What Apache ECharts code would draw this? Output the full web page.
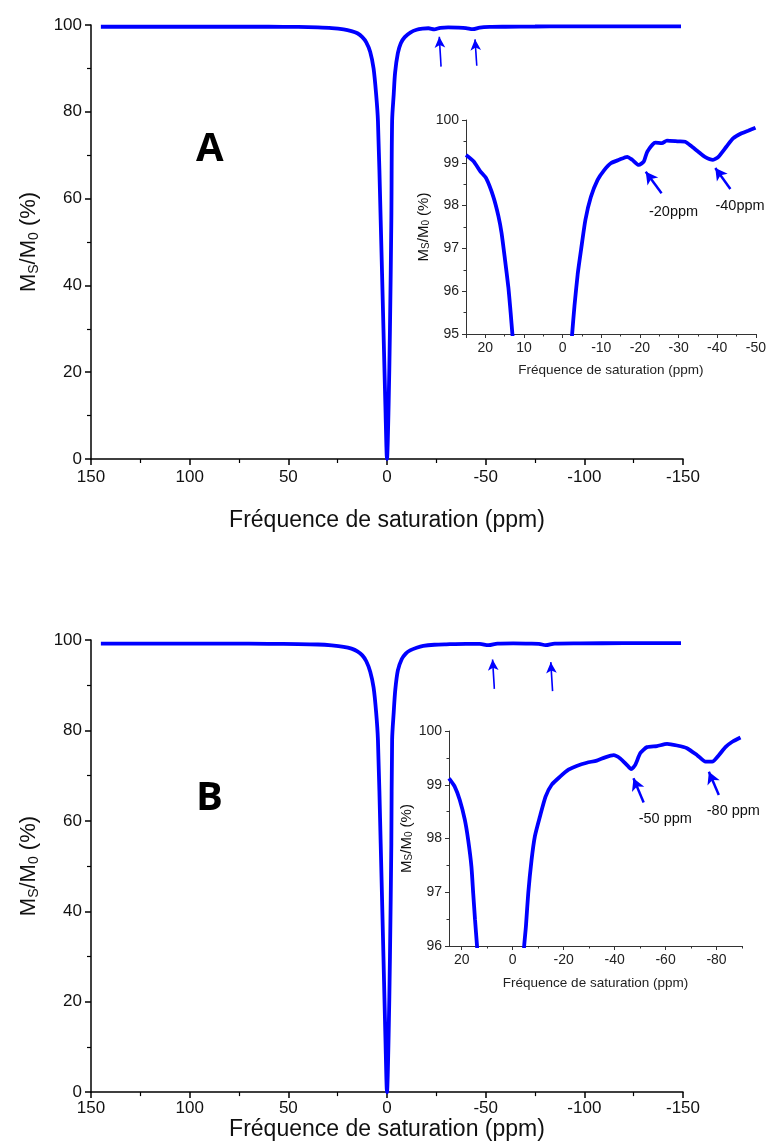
<!DOCTYPE html>
<html><head><meta charset="utf-8">
<script src="https://cdn.jsdelivr.net/npm/echarts@6/dist/echarts.min.js"></script>
<style>html,body{margin:0;padding:0;background:#fff}#c{width:769px;height:1142px}</style>
</head><body><div id="c"></div>
<script>
// ---- Panel A (main) ----
const mainA_ppm = [145, 120, 100, 80, 60, 45, 35, 28, 22, 18, 15, 12.5, 10.5, 8.5, 6.8, 5.5, 4.6, 3.2, 1.8, 0.8, 0, -0.8, -1.5, -2.2, -2.6, -3.4, -4.1, -5.5, -7, -9, -12, -15, -18, -21, -24, -27, -31, -36, -40, -43.5, -47, -52, -60, -75, -90, -110, -130, -149];
const mainA_val = [99.6, 99.6, 99.6, 99.6, 99.6, 99.55, 99.45, 99.3, 99.0, 98.6, 98.1, 97.2, 96.0, 93.8, 90, 84, 78, 55, 30, 12, 0, 12, 30, 55, 78, 84, 89, 93.5, 95.8, 97.2, 98.3, 98.9, 99.15, 99.25, 99.0, 99.35, 99.45, 99.4, 99.3, 99.05, 99.4, 99.55, 99.6, 99.65, 99.7, 99.7, 99.7, 99.7];
// ---- Panel B (main) ----
const mainB_ppm = [145, 120, 100, 80, 60, 45, 35, 28, 22, 18, 15, 12.5, 10.5, 8.5, 6.8, 5.5, 4.6, 3.2, 1.8, 0.8, 0, -0.8, -1.5, -2.2, -2.6, -3.4, -4.2, -5.5, -7.5, -9.5, -11.7, -15, -18.4, -24, -30, -40, -47, -51.4, -56, -64, -72, -77, -80.4, -85, -98, -120, -149];
const mainB_val = [99.2, 99.2, 99.2, 99.2, 99.15, 99.1, 99.0, 98.8, 98.5, 98.1, 97.5, 96.6, 95.3, 93.0, 89.5, 84, 78, 55, 30, 12, 0, 12, 30, 55, 78, 84, 89, 93.3, 95.8, 97.0, 97.7, 98.3, 98.7, 98.95, 99.05, 99.15, 99.15, 98.85, 99.2, 99.25, 99.2, 99.15, 98.85, 99.2, 99.25, 99.3, 99.3];
// ---- Inset A ----
const insA_ppm = [25, 23, 21.3, 19.8, 17.9, 16.6, 15.8, 14.9, 14.05, 13.45, 13.0, 12.6, 5, -2.2, -2.46, -3.06, -3.9, -4.77, -5.9, -7.3, -9.05, -10.76, -12.47, -14.6, -16.7, -18, -19.7, -21, -21.9, -24, -25.7, -27, -30, -31.7, -33.4, -35.1, -36.8, -38.9, -40.3, -42.4, -44.1, -46.3, -48, -49.9];
const insA_val = [99.18, 99.03, 98.8, 98.64, 98.2, 97.75, 97.36, 96.73, 96.1, 95.5, 95.0, 94.6, null, 94.6, 95.0, 95.65, 96.4, 96.97, 97.67, 98.2, 98.6, 98.83, 98.99, 99.07, 99.14, 99.07, 98.95, 99.03, 99.26, 99.47, 99.46, 99.52, 99.5, 99.49, 99.38, 99.26, 99.14, 99.07, 99.14, 99.38, 99.57, 99.69, 99.75, 99.82];
// ---- Inset B ----
const insB_ppm = [25, 22.8, 20.8, 18.8, 17.5, 16.2, 15.5, 14.8, 14.0, 13.6, 5, -4.2, -4.5, -5.2, -6.1, -7.4, -8.7, -10.7, -12.9, -15.3, -18.6, -21.9, -25.1, -29.1, -33, -36.3, -39.6, -42.2, -44.8, -46.5, -48.1, -50.1, -52.7, -56.6, -60.6, -64.5, -68.4, -72.4, -75.7, -78.3, -80.9, -83.5, -86.2, -89.4];
const insB_val = [99.12, 98.97, 98.72, 98.35, 97.98, 97.48, 96.98, 96.5, 96.0, 95.7, null, 95.7, 96.0, 96.37, 96.98, 97.6, 98.04, 98.41, 98.78, 99.0, 99.15, 99.28, 99.35, 99.41, 99.45, 99.51, 99.55, 99.49, 99.37, 99.29, 99.37, 99.59, 99.70, 99.72, 99.76, 99.73, 99.68, 99.55, 99.43, 99.43, 99.55, 99.70, 99.80, 99.88];
// ---- tick labels ----
const mainXTicks = [150, 100, 50, 0, -50, -100, -150];
const mainYTicks = [0, 20, 40, 60, 80, 100];
const insAXTicks = [20, 10, 0, -10, -20, -30, -40, -50];
const insBXTicks = [20, 0, -20, -40, -60, -80];
const insBXMinor = [10, -10, -30, -50, -70, -90];
// ---- annotations: arrows [tailX, tailY, headX, headY] and labels ----
const arrowsA = [[-27.4, 90.4, -26.5, 97.3], [-45.5, 90.6, -44.6, 96.7]];
const arrowsB = [[-54.4, 89.2, -53.5, 95.7], [-83.9, 88.7, -83.0, 95.1]];
const arrowsInsA = [[-25.6, 98.29, -21.5, 98.79], [-43.4, 98.39, -39.5, 98.88]];
const arrowsInsB = [[-51.4, 98.67, -47.4, 99.12], [-80.9, 98.81, -77.0, 99.24]];
const labelsInsA = [['-20ppm', -28.7, 97.85], ['-40ppm', -45.9, 97.99]];
const labelsInsB = [['-50 ppm', -59.9, 98.36], ['-80 ppm', -86.6, 98.52]];

const FONT = 'Liberation Sans, Arial, sans-serif';
const BLUE = '#0000ff';
const pair = (xs, ys) => xs.map((x, i) => [x, ys[i] === null ? '-' : ys[i]]);
const arrowData = arr => arr.map(a => [{coord: [a[0], a[1]], symbol: 'none'}, {coord: [a[2], a[3]], symbol: 'arrow'}]);
const labelData = arr => arr.map(l => ({name: l[0], coord: [l[1], l[2]]}));

const yName = (fs, sfs, pad) => ({
  name: '{m|M}{s|S}{m|/M}{s|0}{m| (%)}',
  nameTextStyle: {color: '#111', fontFamily: FONT, fontSize: fs,
    rich: {m: {fontSize: fs, fontFamily: FONT, color: '#111'},
           s: {fontSize: sfs, fontFamily: FONT, color: '#111', padding: [pad, 0, 0, 0]}}}
});

function mainX(gi, gap, margin) {
  return {gridIndex: gi, type: 'value', inverse: true, min: -150, max: 150, interval: 50, position: 'bottom',
    axisLine: {onZero: false, lineStyle: {color: '#000', width: 1.5}},
    axisTick: {show: true, length: 6, lineStyle: {color: '#000', width: 1.5}},
    minorTick: {show: true, splitNumber: 2, length: 4, lineStyle: {color: '#000', width: 1.2}},
    splitLine: {show: false},
    axisLabel: {fontFamily: FONT, fontSize: 17, color: '#111', margin: margin,
      formatter: v => mainXTicks.includes(v) ? String(v) : ''},
    name: 'Fréquence de saturation (ppm)', nameLocation: 'middle', nameGap: gap,
    nameTextStyle: {fontFamily: FONT, fontSize: 23, color: '#111'}};
}
function mainY(gi) {
  return Object.assign({gridIndex: gi, type: 'value', min: 0, max: 100, interval: 20, position: 'left',
    axisLine: {show: true, onZero: false, lineStyle: {color: '#000', width: 1.5}},
    axisTick: {show: true, length: 6, lineStyle: {color: '#000', width: 1.5}},
    minorTick: {show: true, splitNumber: 2, length: 4, lineStyle: {color: '#000', width: 1.2}},
    splitLine: {show: false},
    axisLabel: {fontFamily: FONT, fontSize: 17, color: '#111', margin: 9},
    nameLocation: 'middle', nameGap: 50}, yName(22, 14, 10));
}

const option = {
  animation: false,
  backgroundColor: '#fff',
  grid: [
    {left: 91, top: 25, width: 592, height: 434},
    {left: 91, top: 640, width: 592, height: 462},
    {left: 466, top: 120, width: 292, height: 214},
    {left: 449, top: 731, width: 293, height: 215}
  ],
  xAxis: [
    mainX(0, 50, 10),
    mainX(1, 18, 8),
    {gridIndex: 2, type: 'value', inverse: true, min: -50, max: 25, interval: 10, position: 'bottom',
      axisLine: {onZero: false, lineStyle: {color: '#333', width: 1}},
      axisTick: {length: 4, lineStyle: {color: '#333'}},
      minorTick: {show: true, splitNumber: 2, length: 2.5, lineStyle: {color: '#333'}},
      splitLine: {show: false},
      axisLabel: {fontFamily: FONT, fontSize: 14, color: '#222', margin: 7,
        formatter: v => insAXTicks.includes(v) ? String(v) : ''},
      name: 'Fréquence de saturation (ppm)', nameLocation: 'middle', nameGap: 29,
      nameTextStyle: {fontFamily: FONT, fontSize: 13.5, color: '#222'}},
    {gridIndex: 3, type: 'value', inverse: true, min: -90, max: 25, position: 'bottom',
      axisLine: {onZero: false, lineStyle: {color: '#333', width: 1}},
      axisTick: {length: 4, lineStyle: {color: '#333'}, customValues: insBXTicks},
      minorTick: {show: false},
      splitLine: {show: false},
      axisLabel: {fontFamily: FONT, fontSize: 14, color: '#222', margin: 7, customValues: insBXTicks},
      name: 'Fréquence de saturation (ppm)', nameLocation: 'middle', nameGap: 30,
      nameTextStyle: {fontFamily: FONT, fontSize: 13.5, color: '#222'}},
    {gridIndex: 3, type: 'value', inverse: true, min: -90, max: 25, position: 'bottom', offset: 0,
      axisLine: {show: false, onZero: false},
      axisTick: {length: 2.5, lineStyle: {color: '#333'}, customValues: insBXMinor},
      axisLabel: {show: false}, splitLine: {show: false}}
  ],
  yAxis: [
    mainY(0),
    mainY(1),
    Object.assign({gridIndex: 2, type: 'value', min: 95, max: 100, interval: 1, position: 'left',
      axisLine: {show: true, onZero: false, lineStyle: {color: '#333', width: 1}},
      axisTick: {length: 4, lineStyle: {color: '#333'}},
      minorTick: {show: true, splitNumber: 2, length: 2.5, lineStyle: {color: '#333'}},
      splitLine: {show: false},
      axisLabel: {fontFamily: FONT, fontSize: 14, color: '#222', margin: 7},
      nameLocation: 'middle', nameGap: 32}, yName(15, 10, 6)),
    Object.assign({gridIndex: 3, type: 'value', min: 96, max: 100, interval: 1, position: 'left',
      axisLine: {show: true, onZero: false, lineStyle: {color: '#333', width: 1}},
      axisTick: {length: 4, lineStyle: {color: '#333'}},
      minorTick: {show: true, splitNumber: 2, length: 2.5, lineStyle: {color: '#333'}},
      splitLine: {show: false},
      axisLabel: {fontFamily: FONT, fontSize: 14, color: '#222', margin: 7},
      nameLocation: 'middle', nameGap: 30}, yName(15, 10, 6))
  ],
  series: [
    {type: 'line', xAxisIndex: 0, yAxisIndex: 0, data: pair(mainA_ppm, mainA_val),
      showSymbol: false, symbol: 'none', smooth: 0.3, clip: true,
      lineStyle: {color: BLUE, width: 3.8},
      markLine: {silent: true, animation: false, symbolSize: [8, 11], label: {show: false},
        lineStyle: {color: BLUE, width: 1.6, type: 'solid'}, data: arrowData(arrowsA)}},
    {type: 'line', xAxisIndex: 1, yAxisIndex: 1, data: pair(mainB_ppm, mainB_val),
      showSymbol: false, symbol: 'none', smooth: 0.3, clip: true,
      lineStyle: {color: BLUE, width: 3.8},
      markLine: {silent: true, animation: false, symbolSize: [8, 11], label: {show: false},
        lineStyle: {color: BLUE, width: 1.6, type: 'solid'}, data: arrowData(arrowsB)}},
    {type: 'line', xAxisIndex: 2, yAxisIndex: 2, data: pair(insA_ppm, insA_val),
      showSymbol: false, symbol: 'none', smooth: 0.2, clip: true, connectNulls: false,
      lineStyle: {color: BLUE, width: 3.8},
      markLine: {silent: true, animation: false, symbolSize: [10, 12], label: {show: false},
        lineStyle: {color: BLUE, width: 2.5, type: 'solid'}, data: arrowData(arrowsInsA)},
      markPoint: {silent: true, symbol: 'circle', symbolSize: 0,
        label: {show: true, position: 'inside', formatter: '{b}', fontFamily: FONT, fontSize: 14.5, color: '#111'},
        data: labelData(labelsInsA)}},
    {type: 'line', xAxisIndex: 3, yAxisIndex: 3, data: pair(insB_ppm, insB_val),
      showSymbol: false, symbol: 'none', smooth: 0.2, clip: true, connectNulls: false,
      lineStyle: {color: BLUE, width: 3.8},
      markLine: {silent: true, animation: false, symbolSize: [10, 12], label: {show: false},
        lineStyle: {color: BLUE, width: 2.5, type: 'solid'}, data: arrowData(arrowsInsB)},
      markPoint: {silent: true, symbol: 'circle', symbolSize: 0,
        label: {show: true, position: 'inside', formatter: '{b}', fontFamily: FONT, fontSize: 14.5, color: '#111'},
        data: labelData(labelsInsB)}}
  ],
  graphic: [
    {type: 'text', left: 196, top: 130, style: {text: 'A', font: 'bold 40px "Open Sans", sans-serif', fill: '#000'}},
    {type: 'text', left: 196, top: 779, style: {text: 'B', font: 'bold 40px "Open Sans", sans-serif', fill: '#000'}}
  ]
};
const chart = echarts.init(document.getElementById('c'), null, {renderer: 'canvas'});
chart.setOption(option);
</script>
</body></html>
